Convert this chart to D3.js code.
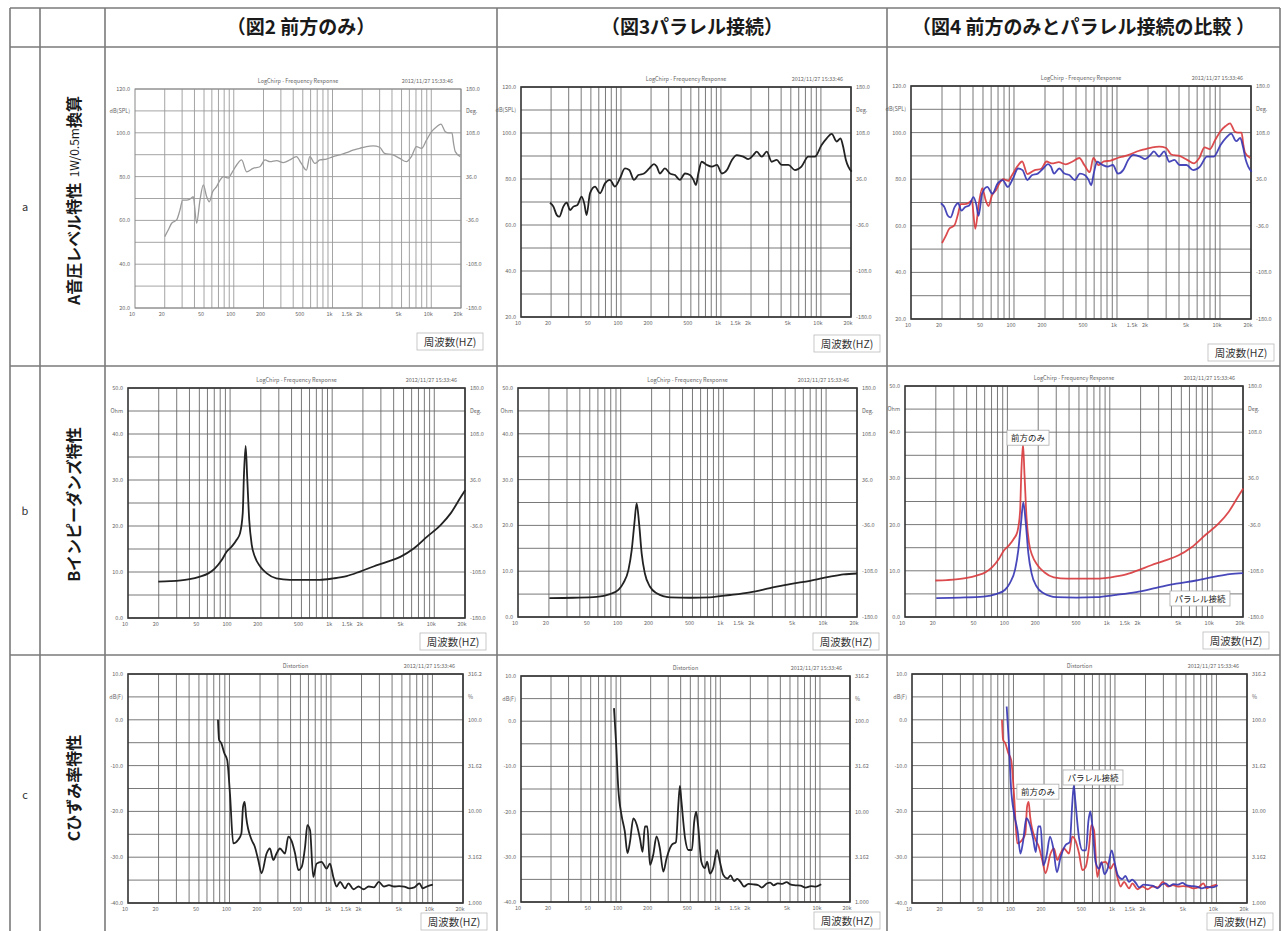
<!DOCTYPE html>
<html>
<head>
<meta charset="utf-8">
<script src="https://cdn.jsdelivr.net/npm/d3@7"></script>
<style>
  body { margin: 0; background: #fff; }
  svg { display: block; font-family: "Noto Sans CJK JP", "Noto Sans", sans-serif; }
</style>
</head>
<body>
<svg id="chart" width="1282" height="931"></svg>
<script>
// ---- table text ----
const columnTitles = ['（図2 前方のみ）', '（図3パラレル接続）', '（図4 前方のみとパラレル接続の比較 ）'];
const rowKeys = ['a', 'b', 'c'];
const rowTitles = ['A音圧レベル特性', 'Bインピーダンズ特性', 'Cひずみ率特性'];
const rowSuffix = ['1W/0.5m換算', '', ''];

// ---- axes ----
const freqTicks = [10, 20, 50, 100, 200, 500, 1000, 1500, 2000, 5000, 10000, 20000];
const freqTickLabels = ['10', '20', '50', '100', '200', '500', '1k', '1.5k', '2k', '5k', '10k', '20k'];
const splTicks = [20, 40, 60, 80, 100, 120];
const impTicks = [0, 10, 20, 30, 40, 50];
const thdTicks = [-40, -30, -20, -10, 0, 10];
const phaseLabels = ['-180.0', '-108.0', '-36.0', '36.0', '108.0', '180.0'];
const percentLabels = ['1.000', '3.162', '10.00', '31.62', '100.0', '316.2'];

// ---- measured curves [Hz, value] ----
const splFront = [[20,52.6],[21.7,55.6],[23.5,58.7],[26.4,60.2],[28.5,64.7],[30.4,69.3],[33.4,69.3],[35.6,69.6],
  [38.9,70.8],[42.1,58.7],[45.5,69.3],[49.2,76.2],[53.2,70.8],[56.5,68.5],[61.1,73.1],[67,75.4],[72.6,78.4],
  [78.5,80],[88,79.3],[95,81.5],[107,85.3],[120,87.6],[135,82.2],[157,83.8],[184,84.5],[207,87.6],[233,86.8],
  [272,87.3],[317,86.4],[370,87.6],[431,89.1],[483,86],[544,83],[589,89.1],[662,86],[745,87.6],[869,88],
  [1014,89.1],[1185,89.9],[1383,90.9],[1614,92.1],[1888,92.9],[2207,93.7],[2570,94],[3003,93.4],[3365,90.6],
  [4101,89.9],[4798,88.3],[5604,86.8],[6290,89.1],[7083,93.7],[7970,92.9],[8952,96.7],[10070,100.5],
  [11330,102.8],[12520,104],[13880,100.5],[14940,100],[16200,100],[16810,95.2],[17500,91.4],[19680,89.1]];
const splParallel = [[19.5,69.7],[21.1,68],[22.8,64.3],[24.2,63.6],[26.5,68],[28.7,69.7],[30.9,66.5],[33.4,68],
  [36.7,68.7],[40.4,72.3],[43,69.2],[45.3,64.3],[49,73.8],[55,76.7],[61.7,73.8],[69.2,78.1],[77.6,79.6],
  [87.1,76.7],[97.7,80.3],[109.6,84.6],[121,83.9],[134.9,79.6],[149,81.7],[170,82.4],[192,84.6],[214,86.5],
  [228,85.4],[245,82.4],[275,84.6],[309,82.4],[347,81.7],[389,79.6],[437,82.4],[490,81.7],[531,79.6],
  [562,77.4],[594,82.4],[642,87.5],[724,86.1],[812,85.4],[912,86.1],[1023,82.4],[1148,83.9],[1288,88.3],
  [1445,90.4],[1676,89.7],[1879,88.6],[2108,90.4],[2280,91.9],[2559,89.7],[2871,91.9],[3221,87.5],
  [3614,88.3],[4055,86.1],[4732,86.1],[5495,83.9],[6393,85.4],[7465,89.7],[8710,89.7],[10160,94.8],
  [11430,97.7],[12820,99.6],[14380,96.3],[15730,97.7],[16700,94],[17780,88.3],[18800,85.4],[20300,83.2]];
const impFront = [[19.8,7.9],[25.8,8.0],[38.9,8.4],[50.7,9.0],[61.2,9.7],[71.1,10.8],[82.8,12.6],[92.4,14.4],
  [103.6,15.5],[116,17.0],[125,18.4],[133,22.8],[136.5,30.7],[142,37.4],[147,30.7],[154,21.3],[163,15.9],
  [175,13.3],[197,11.2],[229,9.7],[284,8.6],[385,8.3],[560,8.3],[755,8.3],[1024,8.6],[1385,9.1],[1875,10.1],
  [2538,11.2],[3436,12.2],[4650,13.3],[6293,15.1],[8520,17.7],[11530,20.2],[14530,22.8],[18320,26.4],[20110,27.8]];
const impParallel = [[20.2,4.1],[34.5,4.2],[58.4,4.4],[78.7,5.0],[94.9,5.9],[106,7.4],[119,10.3],[128,14.6],
  [136,20.5],[143,24.8],[151,20.5],[160,13.9],[172,9.5],[193,6.6],[224,5.2],[302,4.3],[473,4.2],[740,4.3],
  [1159,4.8],[1815,5.4],[2843,6.3],[4454,7.2],[6977,7.9],[10930,8.8],[14760,9.3],[19990,9.5]];
const thdFront = [[77,0.0],[79,-4.4],[83,-5.1],[89,-7.3],[95,-8.8],[101,-16.0],[109,-27.0],[122,-26.2],
  [131,-24.8],[136,-19.0],[141,-17.9],[146,-21.2],[165,-26.2],[177,-27.6],[192,-30.6],[207,-33.5],[232,-29.2],
  [250,-28.1],[270,-30.6],[291,-29.2],[314,-28.1],[352,-29.2],[380,-25.5],[410,-26.5],[443,-29.2],[478,-32.8],
  [515,-32.1],[556,-27.7],[585,-23.0],[622,-24.1],[669,-34.3],[722,-31.4],[808,-31.0],[905,-32.5],[977,-31.4],
  [1054,-34.3],[1138,-36.4],[1228,-35.4],[1377,-36.8],[1486,-35.7],[1666,-37.0],[1869,-36.4],[2097,-37.0],
  [2353,-36.4],[2640,-36.6],[2962,-35.4],[3323,-36.4],[3729,-36.1],[4184,-36.4],[4694,-36.3],[5267,-36.4],
  [5909,-36.8],[6630,-36.6],[7439,-35.7],[8024,-36.8],[9004,-36.3],[10100,-36.0]];
const thdParallel = [[85.7,2.9],[89.8,-4.5],[94.6,-14.8],[102,-20.8],[110,-24.4],[117,-29.2],[124,-26.7],
  [134,-21.5],[145,-22.9],[156,-25.9],[166,-28.9],[175,-23.3],[185,-23.3],[197,-31.8],[212,-29.6],[229,-25.5],
  [247,-28.1],[268,-33.3],[289,-30.3],[325,-27.4],[359,-26.7],[379,-18.5],[393,-14.3],[405,-17.2],[443,-25.9],
  [478,-28.5],[518,-28.5],[547,-22.2],[571,-20.0],[597,-22.9],[645,-31.1],[698,-32.5],[738,-31.1],[786,-33.7],
  [847,-32.5],[929,-28.5],[990,-31.1],[1070,-34.0],[1176,-34.8],[1270,-34.1],[1372,-35.4],[1482,-34.9],
  [1601,-35.6],[1730,-36.6],[1911,-36.0],[2146,-36.1],[2409,-36.3],[2610,-36.8],[2927,-35.9],[3162,-35.7],
  [3418,-36.3],[3764,-35.9],[4172,-36.0],[4623,-35.6],[5029,-36.1],[5660,-36.3],[6377,-36.4],[7186,-36.8],
  [8097,-36.5],[9123,-36.6],[10280,-36.1]];

// ---- layout ----
const W = 1282, H = 931;
const colX = [10, 40, 105, 497, 887, 1280];
const rowY = [8, 47, 366, 655, 940];
const RED = '#d8383c', BLUE = '#3434b4', INK = '#222';

const rowTypes = [
  {ticks: splTicks, unit: 'dB(SPL)', right: phaseLabels, rUnit: 'Deg.', title: 'LogChirp - Frequency Response'},
  {ticks: impTicks, unit: 'Ohm', right: phaseLabels, rUnit: 'Deg.', title: 'LogChirp - Frequency Response'},
  {ticks: thdTicks, unit: 'dB(F)', right: percentLabels, rUnit: '%', title: 'Distortion'}
];

// frame [left, top, right, bottom], label box [x, y]
const panels = [
  {row: 0, col: 0, f: [135, 89, 461, 308], lb: [417, 333], light: true, series: [[splFront, '#9a9a9a']]},
  {row: 0, col: 1, f: [521, 87, 851, 317], lb: [814, 335], series: [[splParallel, INK]]},
  {row: 0, col: 2, f: [911, 86, 1251, 319], lb: [1208, 344], series: [[splFront, RED], [splParallel, BLUE]]},
  {row: 1, col: 0, f: [128, 388, 465, 618], lb: [420, 633], series: [[impFront, INK]]},
  {row: 1, col: 1, f: [518, 388, 857, 617], lb: [813, 633], series: [[impParallel, INK]]},
  {row: 1, col: 2, f: [905, 386, 1243, 617], lb: [1203, 632], series: [[impFront, RED], [impParallel, BLUE]],
    notes: [['前方のみ', 159, 38.7], ['パラレル接続', 7600, 3.9]]},
  {row: 2, col: 0, f: [128, 674, 463, 903], lb: [421, 913], series: [[thdFront, INK]]},
  {row: 2, col: 1, f: [521, 676, 850, 902], lb: [814, 912], series: [[thdParallel, INK]]},
  {row: 2, col: 2, f: [912, 674, 1247, 903], lb: [1207, 913], series: [[thdFront, RED], [thdParallel, BLUE]],
    notes: [['前方のみ', 174, -15.8], ['パラレル接続', 607, -12.7]]}
];

const svg = d3.select('#chart');
svg.append('rect').attr('width', W).attr('height', H).attr('fill', '#fff');

// ---- table grid ----
const grid = svg.append('g').attr('stroke', '#7a7a7a').attr('stroke-width', 1.6);
colX.forEach(function (x) {
  grid.append('line').attr('x1', x).attr('x2', x).attr('y1', rowY[0]).attr('y2', H);
});
rowY.slice(0, 4).forEach(function (y) {
  grid.append('line').attr('x1', colX[0]).attr('x2', colX[5]).attr('y1', y).attr('y2', y);
});

columnTitles.forEach(function (t, i) {
  svg.append('text')
    .attr('x', (colX[i + 2] + colX[i + 3]) / 2).attr('y', 34)
    .attr('text-anchor', 'middle').attr('font-size', 19).attr('font-weight', 'bold')
    .attr('fill', '#1a1a1a').text(t);
});

rowKeys.forEach(function (k, i) {
  let cy = (rowY[i + 1] + rowY[i + 2]) / 2;
  if (i === 2) cy = 795;
  svg.append('text').attr('x', 25).attr('y', cy + 4).attr('text-anchor', 'middle')
    .attr('font-size', 11).attr('fill', '#333').text(k);
  let lt = svg.append('text')
    .attr('transform', 'translate(80,' + (i === 2 ? 788 : cy - 6) + ') rotate(-90)')
    .attr('text-anchor', 'middle').attr('font-size', 16).attr('font-weight', 'bold').attr('fill', '#1a1a1a');
  lt.append('tspan').text(rowTitles[i]);
  if (rowSuffix[i]) {
    lt.append('tspan').attr('font-weight', 'normal').attr('font-size', 12).attr('dy', -1.5)
      .text('\u00a0\u00a01W/0.5m');
    lt.append('tspan').attr('dy', 1.5).text('換算');
  }
});

// ---- plots ----
const minorFreqs = [];
[10, 100, 1000, 10000].forEach(function (d) {
  for (let n = 1; n <= 9; n++) {
    const f = n * d;
    if (f > 10 && f <= 20000) minorFreqs.push(f);
  }
});

panels.forEach(function (p) {
  const type = rowTypes[p.row];
  const [l, t, r, b] = p.f;
  const x = d3.scaleLog().domain([10, 20000]).range([l, r]);
  const y = d3.scaleLinear().domain([type.ticks[0], type.ticks[5]]).range([b, t]);
  const g = svg.append('g');
  const gridColor = p.light ? '#9a9a9a' : '#6a6a6a';

  // horizontal grid: 10 divisions
  const hLines = d3.range(11).map(function (i) {
    return type.ticks[0] + i * (type.ticks[5] - type.ticks[0]) / 10;
  });
  g.selectAll('.h').data(hLines).enter().append('line')
    .attr('x1', l).attr('x2', r).attr('y1', d => y(d)).attr('y2', d => y(d))
    .attr('stroke', gridColor).attr('stroke-width', 0.9);
  // vertical log grid
  g.selectAll('.v').data(minorFreqs).enter().append('line')
    .attr('x1', d => x(d)).attr('x2', d => x(d)).attr('y1', t).attr('y2', b)
    .attr('stroke', gridColor).attr('stroke-width', 0.9);

  g.append('rect').attr('x', l).attr('y', t).attr('width', r - l).attr('height', b - t)
    .attr('fill', 'none').attr('stroke', p.light ? '#888' : '#333').attr('stroke-width', p.light ? 1 : 1.6);

  // tick labels
  const lab = g.append('g').attr('font-size', 5.5).attr('fill', '#666');
  lab.selectAll('.xl').data(freqTicks).enter().append('text')
    .attr('x', d => x(d) - 3).attr('y', b + 8).attr('text-anchor', 'middle')
    .text((d, i) => freqTickLabels[i]);
  lab.selectAll('.yl').data(type.ticks).enter().append('text')
    .attr('x', l - 5).attr('y', d => y(d) + 2).attr('text-anchor', 'end')
    .text(d => d.toFixed(1));
  lab.append('text').attr('x', l - 5).attr('y', y(hLines[9]) + 2).attr('text-anchor', 'end').text(type.unit);
  lab.selectAll('.yr').data(type.ticks).enter().append('text')
    .attr('x', r + 5).attr('y', d => y(d) + 2).attr('text-anchor', 'start')
    .text((d, i) => type.right[i]);
  lab.append('text').attr('x', r + 5).attr('y', y(hLines[9]) + 2).text(type.rUnit);
  lab.append('text').attr('x', (l + r) / 2).attr('y', t - 6).attr('text-anchor', 'middle').text(type.title);
  lab.append('text').attr('x', r - 8).attr('y', t - 6).attr('text-anchor', 'end').text('2012/11/27 15:33:46');

  // curves
  const line = d3.line().x(d => x(d[0])).y(d => y(d[1])).curve(d3.curveMonotoneX);
  p.series.forEach(function (s) {
    g.append('path').datum(s[0]).attr('d', line).attr('fill', 'none')
      .attr('stroke', s[1]).attr('stroke-width', p.light ? 1.3 : 1.8)
      .attr('stroke-linejoin', 'round').attr('opacity', s[1] === INK || p.light ? 1 : 0.9);
  });

  // annotations
  (p.notes || []).forEach(function (n) {
    const nx = x(n[1]), ny = y(n[2]);
    const tw = n[0].length * 9 + 6;
    g.append('rect').attr('x', nx - tw / 2).attr('y', ny - 8).attr('width', tw).attr('height', 15)
      .attr('fill', '#fff').attr('stroke', '#aaa').attr('stroke-width', 0.8);
    g.append('text').attr('x', nx).attr('y', ny + 3).attr('text-anchor', 'middle')
      .attr('font-size', 8.5).attr('fill', '#222').text(n[0]);
  });

  // 周波数 label box
  g.append('rect').attr('x', p.lb[0]).attr('y', p.lb[1]).attr('width', 66).attr('height', 17)
    .attr('fill', '#fff').attr('stroke', '#bbb').attr('stroke-width', 0.8);
  g.append('text').attr('x', p.lb[0] + 33).attr('y', p.lb[1] + 12.5).attr('text-anchor', 'middle')
    .attr('font-size', 10.5).attr('fill', '#333').text('周波数(HZ)');
});
</script>
</body>
</html>
